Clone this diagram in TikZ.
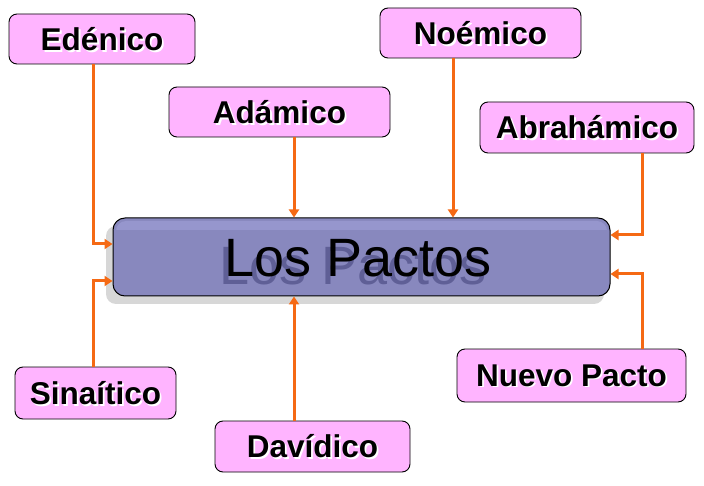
\documentclass[tikz,border=0pt]{standalone}
\usepackage{fontspec}
\setmainfont{Liberation Sans}
\usetikzlibrary{arrows.meta}
\definecolor{pinkfill}{RGB}{255,180,255}
\definecolor{centfill}{RGB}{136,136,190}
\definecolor{centtop}{RGB}{150,150,205}
\definecolor{conn}{RGB}{245,105,20}
\definecolor{shadowtxt}{RGB}{95,95,150}
\definecolor{boxshadow}{RGB}{215,215,215}
\newcommand{\shtext}[4]{% dx, dy, colour, text
  \makebox[0pt][l]{\hspace*{#1}\raisebox{-#2}[0pt][0pt]{\textcolor{#3}{#4}}}#4}
\tikzset{
  pinkbox/.style={draw=black, line width=0.9pt, fill=pinkfill, rounded corners=8pt, inner sep=0pt,
    font=\bfseries\fontsize{31.5}{34}\selectfont, text=black},
  conline/.style={draw=conn, line width=3pt, -{Triangle[length=8pt,width=10pt]}},
}
\newcommand{\pbox}[6]{%
  \node[pinkbox, minimum width=#3pt, minimum height=#4pt] (#5) at (#1,#2) {\shtext{1.8pt}{1.8pt}{white}{#6}};
}
\begin{document}
\begin{tikzpicture}[x=1pt,y=-1pt]
\useasboundingbox[fill=white] (0,0) rectangle (704,486);
% central box
\fill[boxshadow, rounded corners=10pt] (106,226) rectangle (604,304);
\node[draw=black, line width=1pt, fill=centfill, rounded corners=12pt, minimum width=497pt, minimum height=78pt, inner sep=0pt] (c) at (361.5,257) {};
\fill[centtop, rounded corners=10pt] (116,221) rectangle (607,240);
\fill[centfill] (116,230) rectangle (607,240);
\node[font=\fontsize{54}{58}\selectfont, text=black] (ct) at (358,258) {\shtext{-5pt}{8pt}{shadowtxt}{Los Pactos}};
% pink boxes
\pbox{102}{39}{186}{50}{ed}{Edénico}
\pbox{480.5}{33}{201}{50}{no}{Noémico}
\pbox{279.5}{112}{221}{50}{ad}{Adámico}
\pbox{587}{127.5}{214}{51}{ab}{Abrahámico}
\pbox{95.5}{393}{161}{52}{si}{Sinaítico}
\pbox{312.5}{446.5}{195}{51}{da}{Davídico}
\pbox{571.5}{375.5}{229}{53}{nu}{Nuevo Pacto}
% connectors
\coordinate (ce) at (c.west |- 0,244);
\coordinate (cs) at (c.west |- 0,281);
\coordinate (cab) at (c.east |- 0,235);
\coordinate (cnu) at (c.east |- 0,274);
\draw[conline] (ed.south -| 93,0) |- (ce);
\draw[conline] (si.north -| 93,0) |- (cs);
\draw[conline] (ad.south -| 294,0) -- (c.north -| 294,0);
\draw[conline] (no.south -| 453,0) -- (c.north -| 453,0);
\draw[conline] (da.north -| 294,0) -- (c.south -| 294,0);
\draw[conline] (ab.south -| 642,0) |- (cab);
\draw[conline] (nu.north -| 642,0) |- (cnu);
\end{tikzpicture}
\end{document}
